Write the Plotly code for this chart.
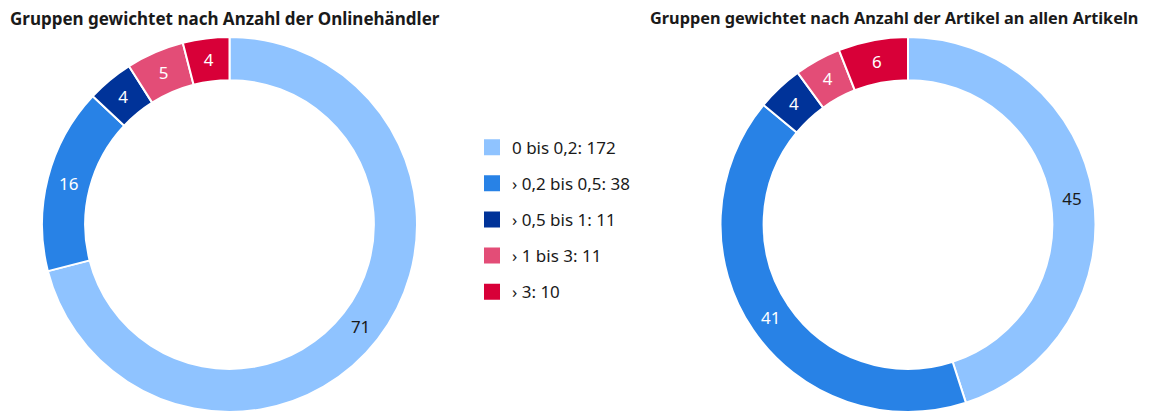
import plotly.graph_objects as go

categories = ["0 bis 0,2", "› 0,2 bis 0,5", "› 0,5 bis 1", "› 1 bis 3", "› 3"]
counts = [172, 38, 11, 11, 10]
share_haendler = [71, 16, 4, 5, 4]
share_artikel = [45, 41, 4, 4, 6]
title_left = "Gruppen gewichtet nach Anzahl der Onlinehändler"
title_right = "Gruppen gewichtet nach Anzahl der Artikel an allen Artikeln"
colors = ["#8fc3ff", "#2882e6", "#003399", "#e34d77", "#d80038"]
text_colors = ["#1a1a1a", "white", "white", "white", "white"]

labels = [f"{c}: {n}" for c, n in zip(categories, counts)]
FONT = "Noto Sans"
W = 1162

fig = go.Figure()

def add_pie(values, domain_x):
    fig.add_trace(go.Pie(
        labels=labels, values=values, sort=False, direction="clockwise", rotation=0,
        hole=0.77, marker=dict(colors=colors, line=dict(color="white", width=2)),
        textinfo="value", textposition="inside", insidetextorientation="horizontal",
        textfont=dict(family=FONT, size=17, color=text_colors),
        domain=dict(x=domain_x, y=[0, 1]), showlegend=False, hoverinfo="label+value",
    ))

add_pie(share_haendler, [33.5 / W, 409.5 / W])
add_pie(share_artikel, [712 / W, 1088 / W])

for lab, col in zip(labels, colors):
    fig.add_trace(go.Scatter(
        x=[None], y=[None], mode="markers", name=lab, legendgroup=lab,
        marker=dict(symbol="square", size=16, color=col),
    ))

for t, x, fs in [(title_left, 0, 17), (title_right, 640, 16.3)]:
    fig.add_annotation(text=f"<b>{t}</b>", x=x / W, y=1, yref="paper", xref="paper",
                       xanchor="left", yanchor="middle", yshift=19, showarrow=False,
                       font=dict(family=FONT, size=fs, color="#1a1a1a"))

fig.update_layout(
    width=W, height=412, margin=dict(l=0, r=0, t=29, b=8),
    paper_bgcolor="white", plot_bgcolor="white",
    xaxis=dict(visible=False), yaxis=dict(visible=False),
    legend=dict(x=464 / W, y=0.5128, xanchor="left", yanchor="middle",
                font=dict(family=FONT, size=17, color="#1a1a1a"),
                tracegroupgap=11, itemclick=False),
)

fig.write_html("out.html")
